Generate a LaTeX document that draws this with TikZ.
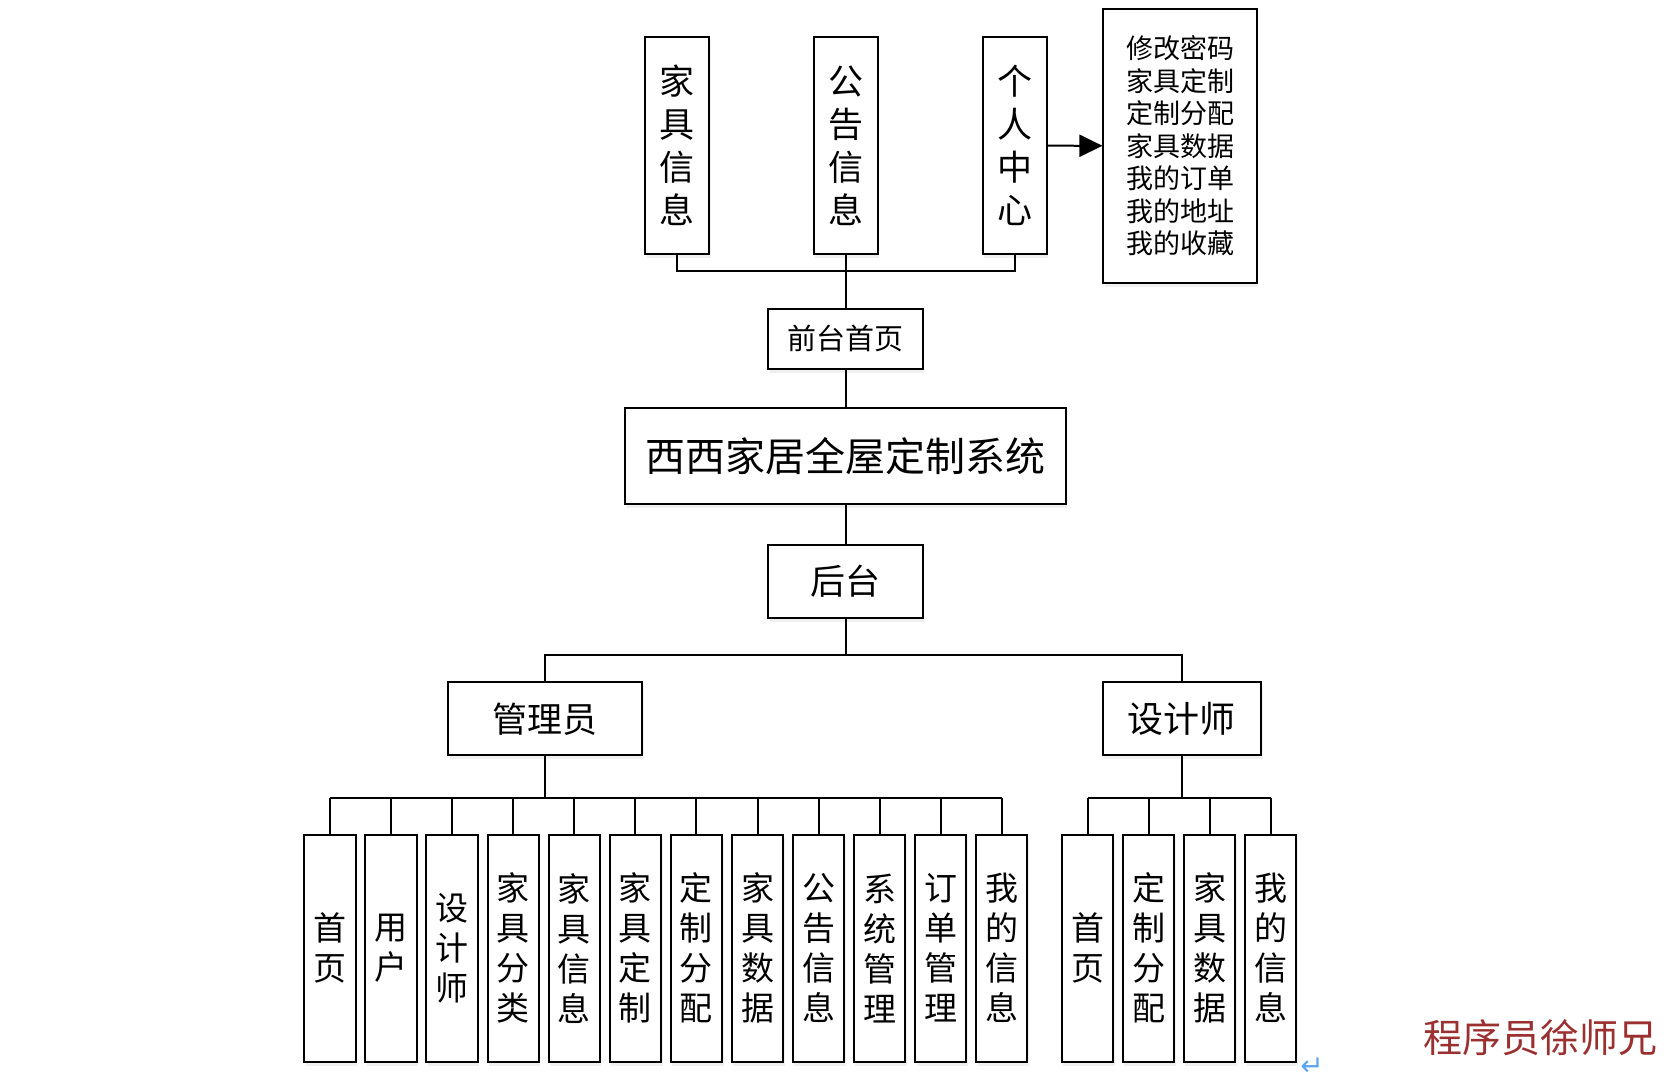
\documentclass[tikz,border=0pt]{standalone}
\usepackage{fontspec}
\setmainfont{Noto Sans CJK SC}
\newfontfamily\symfont{DejaVu Sans}
\usetikzlibrary{arrows.meta,shadows}
\definecolor{wmred}{RGB}{155,48,48}
\definecolor{retblue}{RGB}{95,165,235}
\tikzset{
  box/.style={draw, line width=2pt, inner sep=0pt, align=center, fill=white,
    drop shadow={shadow xshift=1.5pt, shadow yshift=-4pt, opacity=0.12}},
  vtop/.style={box, minimum width=64pt, minimum height=216.5pt, font=\fontsize{35}{43}\selectfont},
  leaf/.style={box, minimum width=51.4pt, minimum height=227.2pt, font=\fontsize{33}{40}\selectfont},
  conn/.style={line width=2pt}
}
\begin{document}
\begin{tikzpicture}[x=1pt,y=-1pt]
\useasboundingbox (0,0) rectangle (1680,1084);
% top level
\node[vtop] (jj) at (677,145.7) {家\\具\\信\\息};
\node[vtop] (gg) at (845.5,145.7) {公\\告\\信\\息};
\node[vtop] (gr) at (1014.7,145.7) {个\\人\\中\\心};
\node[box, minimum width=153.5pt, minimum height=274.4pt, font=\fontsize{27}{32.5}\selectfont] (list) at (1180.2,145.8)
  {修改密码\\家具定制\\定制分配\\家具数据\\我的订单\\我的地址\\我的收藏};
\node[box, minimum width=154.5pt, minimum height=60pt, font=\fontsize{29}{29}\selectfont] (qt) at (845.5,338.6) {前台首页};
\node[box, minimum width=440.3pt, minimum height=95.6pt, font=\fontsize{40}{40}\selectfont] (main) at (845.5,455.8) {西西家居全屋定制系统};
\node[box, minimum width=154.5pt, minimum height=73pt, font=\fontsize{35}{35}\selectfont] (ht) at (845.5,581.5) {后台};
\node[box, minimum width=194pt, minimum height=72.5pt, font=\fontsize{35}{35}\selectfont] (gly) at (545,718.7) {管理员};
\node[box, minimum width=158.5pt, minimum height=72.5pt, font=\fontsize{36}{36}\selectfont] (sjs) at (1181.8,718.7) {设计师};
% admin leaves
\node[leaf] (a1) at (330.00,948.2) {首\\页};
\node[leaf] (a2) at (391.07,948.2) {用\\户};
\node[leaf] (a3) at (452.14,948.2) {设\\计\\师};
\node[leaf] (a4) at (513.21,948.2) {家\\具\\分\\类};
\node[leaf] (a5) at (574.28,948.2) {家\\具\\信\\息};
\node[leaf] (a6) at (635.35,948.2) {家\\具\\定\\制};
\node[leaf] (a7) at (696.42,948.2) {定\\制\\分\\配};
\node[leaf] (a8) at (757.49,948.2) {家\\具\\数\\据};
\node[leaf] (a9) at (818.56,948.2) {公\\告\\信\\息};
\node[leaf] (a10) at (879.63,948.2) {系\\统\\管\\理};
\node[leaf] (a11) at (940.70,948.2) {订\\单\\管\\理};
\node[leaf] (a12) at (1001.77,948.2) {我\\的\\信\\息};
% designer leaves
\node[leaf] (d1) at (1087.5,948.2) {首\\页};
\node[leaf] (d2) at (1148.57,948.2) {定\\制\\分\\配};
\node[leaf] (d3) at (1209.64,948.2) {家\\具\\数\\据};
\node[leaf] (d4) at (1270.71,948.2) {我\\的\\信\\息};
% connectors
\coordinate (topbus) at (845.5,271);
\draw[conn] (jj.south) |- (topbus) -| (gr.south);
\draw[conn] (gg.south) -- (qt.north);
\draw[conn, -{Triangle[length=23pt,width=22pt]}] (gr.east) -- (list.west);
\draw[conn] (qt.south) -- (main.north);
\draw[conn] (main.south) -- (ht.north);
\coordinate (midbus) at (845.5,654.6);
\draw[conn] (ht.south) -- (midbus);
\draw[conn] (gly.north) |- (midbus) -| (sjs.north);
\coordinate (abus) at (545,798);
\draw[conn] (gly.south) -- (abus);
\draw[conn] (a1.north |- abus) -- (a12.north |- abus);
\foreach \i in {1,...,12} { \draw[conn] (a\i.north) -- (a\i.north |- abus); }
\coordinate (dbus) at (1181.8,798);
\draw[conn] (sjs.south) -- (dbus);
\draw[conn] (d1.north |- dbus) -- (d4.north |- dbus);
\foreach \i in {1,...,4} { \draw[conn] (d\i.north) -- (d\i.north |- dbus); }
% watermark and mark
\node[text=wmred, font=\fontsize{39}{39}\selectfont, inner sep=0pt] (wm) at (1540,1038) {程序员徐师兄};
\node[text=retblue, font=\symfont\fontsize{28}{28}\selectfont, inner sep=0pt] (ret) at (1312,1067) {↵};
\end{tikzpicture}
\end{document}
